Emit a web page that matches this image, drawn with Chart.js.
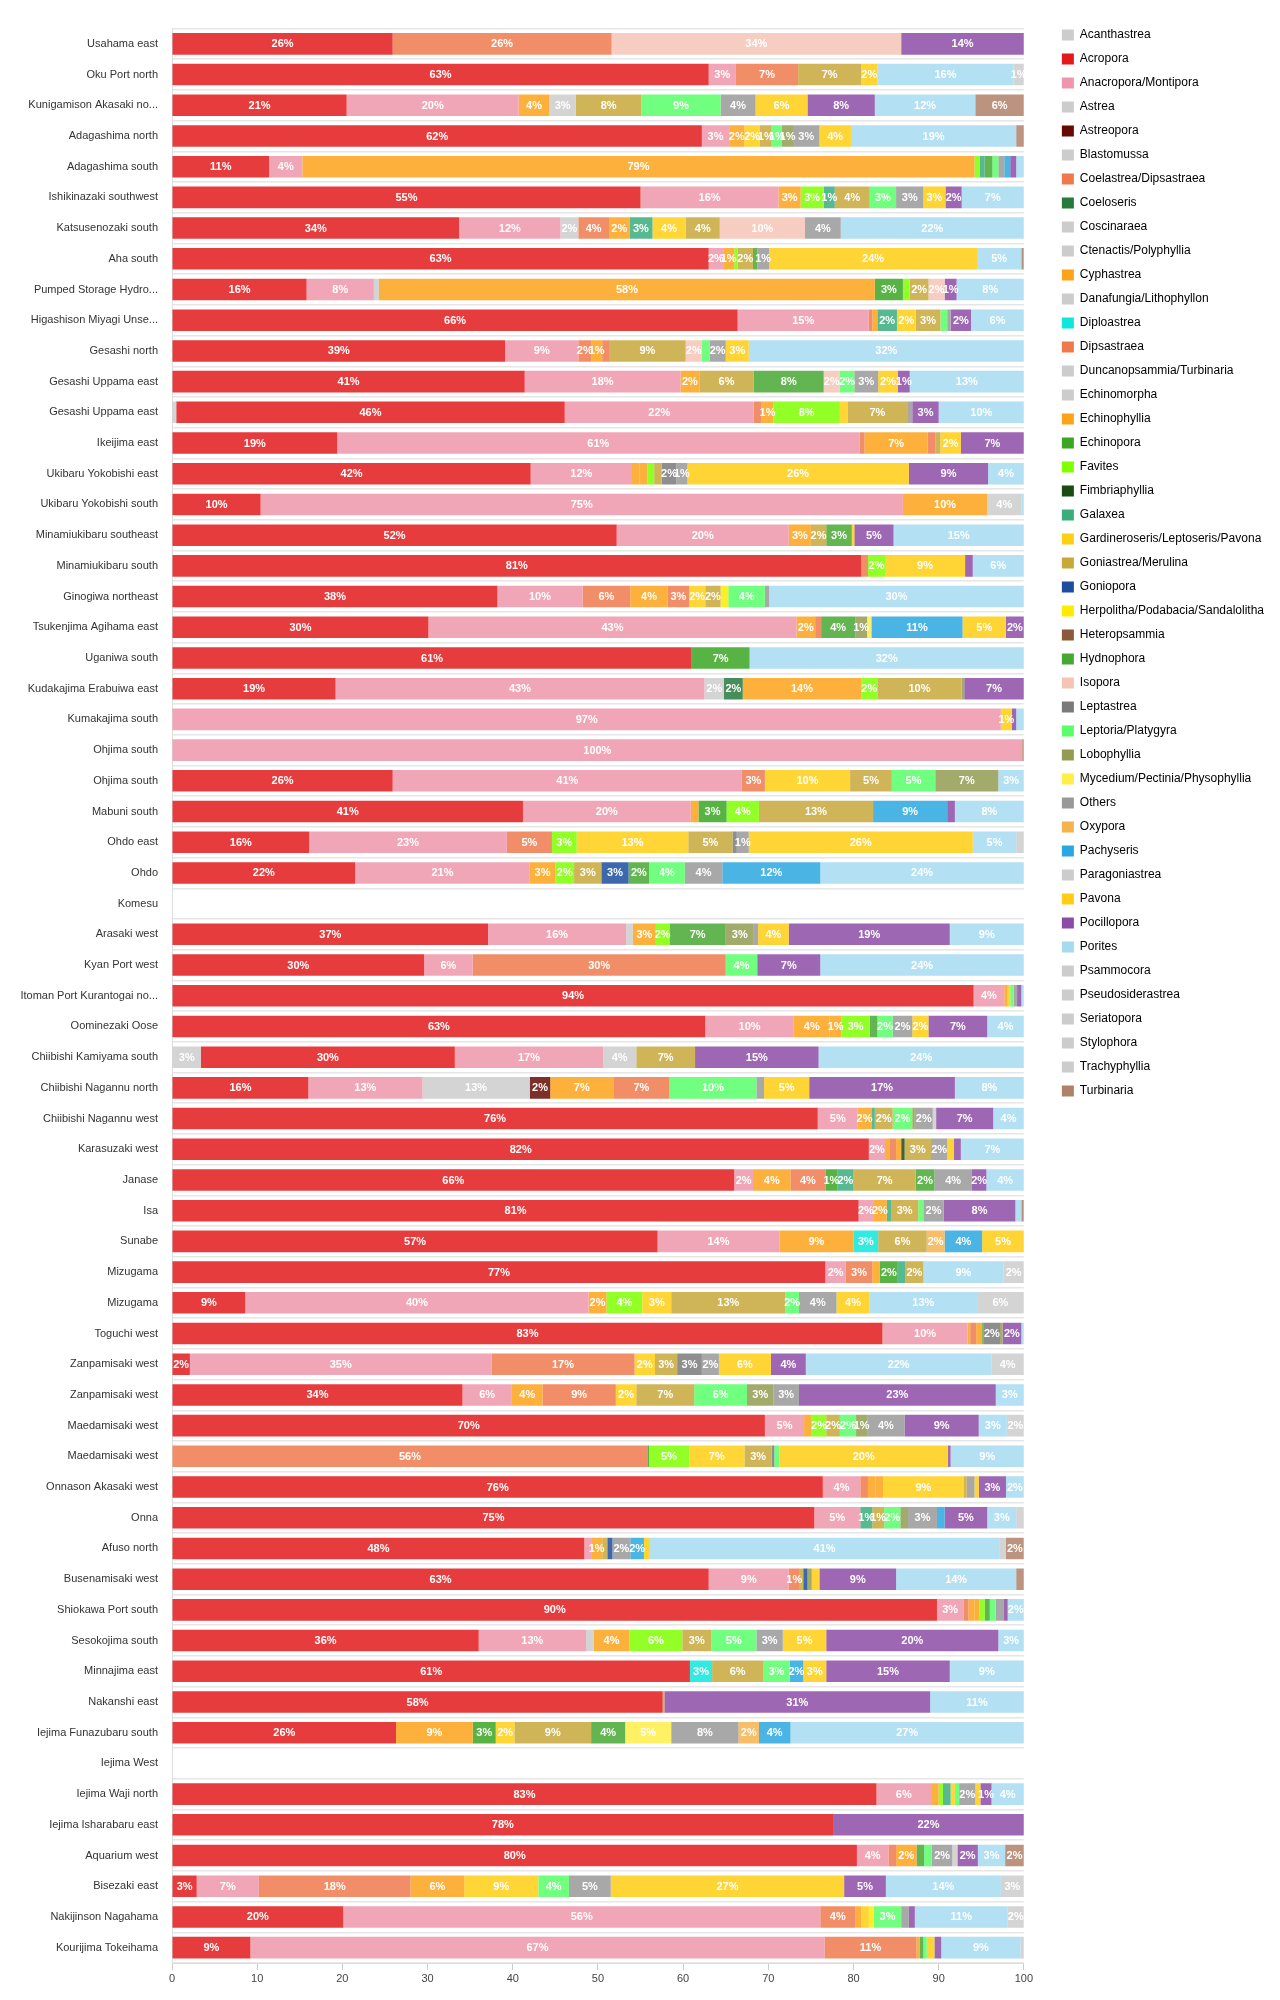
<!DOCTYPE html>
<html>
<head>
<meta charset="utf-8">
<title>Coral cover by site</title>
<script src="https://cdn.jsdelivr.net/npm/chart.js@4.4.1/dist/chart.umd.min.js"></script>
<style>
  html, body { margin: 0; padding: 0; background: #fff; }
  #wrap { width: 1280px; height: 2000px; }
</style>
</head>
<body>
<div id="wrap"><canvas id="cover-chart" width="1280" height="2000"></canvas></div>
<script>
// genus names (legend order = stacking order)
const genera = [
  'Acanthastrea', 'Acropora', 'Anacropora/Montipora', 'Astrea', 'Astreopora', 'Blastomussa',
  'Coelastrea/Dipsastraea', 'Coeloseris', 'Coscinaraea', 'Ctenactis/Polyphyllia', 'Cyphastrea',
  'Danafungia/Lithophyllon', 'Diploastrea', 'Dipsastraea', 'Duncanopsammia/Turbinaria',
  'Echinomorpha', 'Echinophyllia', 'Echinopora', 'Favites', 'Fimbriaphyllia', 'Galaxea',
  'Gardineroseris/Leptoseris/Pavona', 'Goniastrea/Merulina', 'Goniopora',
  'Herpolitha/Podabacia/Sandalolitha', 'Heteropsammia', 'Hydnophora', 'Isopora', 'Leptastrea',
  'Leptoria/Platygyra', 'Lobophyllia', 'Mycedium/Pectinia/Physophyllia', 'Others', 'Oxypora',
  'Pachyseris', 'Paragoniastrea', 'Pavona', 'Pocillopora', 'Porites', 'Psammocora',
  'Pseudosiderastrea', 'Seriatopora', 'Stylophora', 'Trachyphyllia', 'Turbinaria'
];

// short keys used in the site rows below, same order as genera
const genusKeys = [
  'acan', 'acro', 'anac', 'astr', 'astp', 'blas',
  'coel', 'cose', 'cosc', 'cten', 'cyph',
  'dana', 'dipl', 'dips', 'dunc',
  'echm', 'echp', 'echi', 'favi', 'fimb', 'gala',
  'gard', 'goni', 'gonp',
  'herp', 'hete', 'hydn', 'isop', 'lepa',
  'lept', 'lobo', 'myce', 'othe', 'oxyp',
  'pach', 'parg', 'pavo', 'poci', 'pori', 'psam',
  'pseu', 'seri', 'styl', 'trac', 'turb'
];

const genusColors = [
  '#cccccc', '#e31a1c', '#ee97ac', '#cccccc', '#660a05', '#cccccc',
  '#ee7a4c', '#267a3c', '#cccccc', '#cccccc', '#fda31a',
  '#cccccc', '#0fe6dc', '#ee7a4c', '#cccccc',
  '#cccccc', '#fda31a', '#3aa622', '#7fff00', '#1b4a12', '#3aad7c',
  '#ffcf13', '#c8a83b', '#1c4da0',
  '#ffeb00', '#8b5a3c', '#46a833', '#f5c4b5', '#7a7a7a',
  '#58ff68', '#939c52', '#ffee48', '#999999', '#f6b24c',
  '#2aa7e0', '#cccccc', '#ffcd12', '#8c4ca6', '#a6daf0', '#cccccc',
  '#cccccc', '#cccccc', '#cccccc', '#cccccc', '#b08068'
];

const sites = [
  'Usahama east', 'Oku Port north', 'Kunigamison Akasaki no...', 'Adagashima north',
  'Adagashima south', 'Ishikinazaki southwest', 'Katsusenozaki south', 'Aha south',
  'Pumped Storage Hydro...', 'Higashison Miyagi Unse...', 'Gesashi north', 'Gesashi Uppama east',
  'Gesashi Uppama east', 'Ikeijima east', 'Ukibaru Yokobishi east', 'Ukibaru Yokobishi south',
  'Minamiukibaru southeast', 'Minamiukibaru south', 'Ginogiwa northeast', 'Tsukenjima Agihama east',
  'Uganiwa south', 'Kudakajima Erabuiwa east', 'Kumakajima south', 'Ohjima south',
  'Ohjima south', 'Mabuni south', 'Ohdo east', 'Ohdo', 'Komesu', 'Arasaki west', 'Kyan Port west',
  'Itoman Port Kurantogai no...', 'Oominezaki Oose', 'Chiibishi Kamiyama south',
  'Chiibishi Nagannu north', 'Chiibishi Nagannu west', 'Karasuzaki west', 'Janase', 'Isa',
  'Sunabe', 'Mizugama', 'Mizugama', 'Toguchi west', 'Zanpamisaki west', 'Zanpamisaki west',
  'Maedamisaki west', 'Maedamisaki west', 'Onnason Akasaki west', 'Onna', 'Afuso north',
  'Busenamisaki west', 'Shiokawa Port south', 'Sesokojima south', 'Minnajima east',
  'Nakanshi east', 'Iejima Funazubaru south', 'Iejima West', 'Iejima Waji north',
  'Iejima Isharabaru east', 'Aquarium west', 'Bisezaki east', 'Nakijinson Nagahama',
  'Kourijima Tokeihama'
];

// percent cover per site, one row per site (same order as sites)
const siteCover = [
  {acro: 25.9, coel: 25.7, isop: 34.0, poci: 14.4},
  {acro: 63.0, anac: 3.2, coel: 7.3, goni: 7.4, pavo: 1.9, pori: 16.0, psam: 1.2},
  {acro: 20.5, anac: 20.2, cyph: 3.6, dunc: 3.1, goni: 7.7, lept: 9.3, othe: 4.1, pavo: 6.1, poci: 7.9, pori: 11.8, turb: 5.7},
  {acro: 62.2, anac: 3.2, cyph: 1.8, gard: 1.8, goni: 1.4, lept: 1.2, lobo: 1.3, othe: 3.1, pavo: 3.7, pori: 19.4, turb: 0.9},
  {acro: 11.4, anac: 3.9, cyph: 78.9, favi: 0.6, gala: 0.6, hydn: 0.9, lept: 0.7, othe: 0.7, pach: 0.7, poci: 0.7, pori: 0.9},
  {acro: 55.0, anac: 16.2, cyph: 2.6, favi: 2.7, gala: 1.3, goni: 4.1, lept: 3.1, othe: 3.2, pavo: 2.6, poci: 1.9, pori: 7.3},
  {acro: 33.7, anac: 11.9, astr: 2.1, coel: 3.6, cyph: 2.4, gala: 2.7, gard: 3.9, goni: 4.0, isop: 10.0, othe: 4.2, pori: 21.5},
  {acro: 63.0, anac: 1.7, cyph: 1.3, favi: 0.4, goni: 1.8, hydn: 0.5, othe: 1.4, pavo: 24.4, pori: 5.2, turb: 0.3},
  {acro: 15.8, anac: 7.9, astr: 0.6, cyph: 58.2, echi: 3.3, favi: 0.8, goni: 2.2, isop: 1.9, poci: 1.4, pori: 7.9},
  {acro: 66.4, anac: 15.4, coel: 0.4, cyph: 0.6, gala: 2.3, gard: 2.2, goni: 2.9, lept: 0.8, othe: 0.4, poci: 2.4, pori: 6.2},
  {acro: 39.1, anac: 8.6, coel: 1.5, cyph: 1.3, dips: 0.8, goni: 9.0, isop: 1.9, lept: 0.9, othe: 1.9, pavo: 2.7, pori: 32.3},
  {acro: 41.4, anac: 18.3, cyph: 2.2, goni: 6.4, hydn: 8.2, isop: 1.9, lept: 1.7, othe: 2.8, pavo: 2.3, poci: 1.4, pori: 13.4},
  {acan: 0.5, acro: 45.6, anac: 22.2, coel: 0.9, cyph: 1.4, favi: 7.8, gard: 0.9, goni: 7.0, othe: 0.6, poci: 3.1, pori: 10.0},
  {acro: 19.4, anac: 61.3, coel: 0.6, cyph: 7.4, dips: 0.9, goni: 0.6, pavo: 2.4, poci: 7.4},
  {acro: 42.1, anac: 11.9, cyph: 0.9, echp: 0.9, favi: 0.8, goni: 0.9, lepa: 1.7, othe: 1.3, pavo: 26.0, poci: 9.3, pori: 4.2},
  {acro: 10.4, anac: 75.4, cyph: 9.9, parg: 4.0, pori: 0.3},
  {acro: 52.2, anac: 20.2, cyph: 2.6, goni: 1.8, hydn: 3.0, pavo: 0.3, poci: 4.6, pori: 15.3},
  {acro: 80.9, coel: 0.8, favi: 2.0, pavo: 9.4, poci: 0.9, pori: 6.0},
  {acro: 38.2, anac: 10.0, coel: 5.6, cyph: 4.4, dips: 2.5, gard: 1.9, goni: 1.8, herp: 0.9, lept: 4.3, othe: 0.5, pori: 29.9},
  {acro: 30.1, anac: 43.2, cyph: 2.2, dips: 0.7, hydn: 4.0, lobo: 1.4, myce: 0.5, pach: 10.7, pavo: 5.1, poci: 2.1},
  {acro: 61.0, echi: 6.8, pori: 32.2},
  {acro: 19.2, anac: 43.3, blas: 2.3, cose: 2.2, cyph: 13.9, favi: 1.9, goni: 9.9, lobo: 0.3, poci: 7.0},
  {anac: 97.3, pavo: 1.3, poci: 0.5, pori: 0.9},
  {anac: 99.8, turb: 0.2},
  {acro: 25.9, anac: 41.0, dips: 2.7, gard: 10.0, goni: 4.9, lept: 5.1, lobo: 7.4, pori: 3.0},
  {acro: 41.2, anac: 19.7, cyph: 0.9, echi: 3.3, favi: 3.8, goni: 13.4, pach: 8.7, poci: 0.9, pori: 8.1},
  {acro: 16.1, anac: 23.2, dips: 5.3, favi: 2.9, gard: 13.1, goni: 5.2, lepa: 0.5, othe: 1.4, pavo: 26.3, pori: 5.1, psam: 0.9},
  {acro: 21.5, anac: 20.5, cyph: 3.0, favi: 2.2, goni: 3.2, gonp: 3.2, hydn: 2.4, lept: 4.2, othe: 4.4, pach: 11.5, pori: 23.9},
  {},
  {acro: 37.1, anac: 16.2, astr: 0.8, cyph: 2.7, favi: 1.6, hydn: 6.6, lobo: 3.3, othe: 0.5, pavo: 3.6, poci: 18.9, pori: 8.7},
  {acro: 29.6, anac: 5.7, coel: 29.7, lept: 3.7, poci: 7.4, pori: 23.9},
  {acro: 94.1, anac: 3.6, cyph: 0.4, gard: 0.3, lept: 0.4, othe: 0.4, poci: 0.5, pori: 0.3},
  {acro: 62.6, anac: 10.4, cyph: 4.2, echp: 1.4, favi: 3.3, hydn: 0.9, lept: 1.8, othe: 2.3, pavo: 1.9, poci: 6.9, pori: 4.3},
  {acan: 3.4, acro: 29.8, anac: 17.4, astr: 3.9, goni: 6.9, poci: 14.5, pori: 24.1},
  {acro: 16.0, anac: 13.4, astr: 12.6, astp: 2.4, cyph: 7.4, dips: 6.6, lept: 10.2, othe: 0.9, pavo: 5.3, poci: 17.1, pori: 8.1},
  {acro: 75.8, anac: 4.7, cyph: 1.6, gala: 0.4, goni: 2.1, lept: 2.3, lobo: 0.3, othe: 2.1, parg: 0.4, poci: 6.7, pori: 3.6},
  {acro: 81.8, anac: 1.9, cyph: 0.5, dips: 0.8, echp: 0.6, fimb: 0.4, goni: 3.1, othe: 1.9, pavo: 0.8, poci: 0.8, pori: 7.4},
  {acro: 66.0, anac: 2.2, cyph: 4.4, dips: 4.1, echi: 1.4, gala: 1.9, goni: 7.3, hydn: 2.2, othe: 4.4, poci: 1.7, pori: 4.4},
  {acro: 80.6, anac: 1.7, cyph: 1.6, gala: 0.5, goni: 3.2, lept: 0.6, othe: 2.4, poci: 8.4, pori: 0.7, turb: 0.3},
  {acro: 57.0, anac: 14.3, cyph: 8.7, dipl: 2.9, goni: 5.7, oxyp: 2.1, pach: 4.4, pavo: 4.9},
  {acro: 76.7, anac: 2.4, coel: 3.1, cyph: 0.9, echi: 2.1, gala: 0.9, goni: 2.1, pori: 9.4, psam: 2.4},
  {acro: 8.6, anac: 40.3, cyph: 2.1, favi: 4.2, gard: 3.4, goni: 13.4, lept: 1.6, othe: 4.4, pavo: 3.9, pori: 12.6, psam: 5.5},
  {acro: 83.4, anac: 10.0, cyph: 0.3, dips: 0.7, echp: 0.7, hydn: 0.2, lepa: 1.9, lobo: 0.3, poci: 2.2, pori: 0.3},
  {acro: 2.1, anac: 35.4, dips: 16.8, gard: 2.4, goni: 2.6, lepa: 2.9, othe: 2.0, pavo: 6.1, poci: 4.1, pori: 21.8, psam: 3.8},
  {acro: 34.1, anac: 5.8, cyph: 3.6, dips: 8.6, gard: 2.4, goni: 6.8, lept: 6.2, lobo: 3.1, othe: 3.0, poci: 23.1, pori: 3.3},
  {acro: 69.6, anac: 4.6, cyph: 0.9, favi: 1.7, goni: 1.6, lept: 1.9, lobo: 1.3, othe: 4.4, poci: 8.7, pori: 3.3, psam: 2.0},
  {coel: 55.8, echi: 0.2, favi: 4.7, gard: 6.5, goni: 3.2, lepa: 0.3, lept: 0.6, pavo: 19.8, poci: 0.3, pori: 8.6},
  {acro: 76.4, anac: 4.4, coel: 0.9, cyph: 0.9, echp: 0.9, gard: 9.4, goni: 0.4, othe: 0.9, pavo: 0.5, poci: 3.2, pori: 2.1},
  {acro: 75.4, anac: 5.4, gala: 1.4, goni: 1.4, lept: 1.9, lobo: 0.9, othe: 3.4, pach: 0.9, poci: 5.0, pori: 3.4, psam: 0.9},
  {acro: 48.4, anac: 0.8, cyph: 1.3, goni: 0.6, gonp: 0.6, othe: 2.1, pach: 1.6, pavo: 0.7, pori: 41.0, psam: 0.8, turb: 2.1},
  {acro: 63.0, anac: 9.4, coel: 1.3, goni: 0.4, gonp: 0.5, lobo: 0.5, pavo: 0.9, poci: 9.0, pori: 14.1, turb: 0.9},
  {acro: 89.8, anac: 3.1, coel: 0.6, cyph: 0.7, echp: 0.6, favi: 0.6, hydn: 0.6, lept: 0.7, othe: 0.9, poci: 0.5, pori: 1.9},
  {acro: 36.0, anac: 12.6, cten: 0.9, cyph: 4.2, favi: 6.2, goni: 3.4, lept: 5.3, othe: 3.1, pavo: 5.1, poci: 20.2, pori: 3.0},
  {acro: 60.8, dipl: 2.6, goni: 6.0, lept: 3.1, pach: 1.6, pavo: 2.7, poci: 14.5, pori: 8.7},
  {acro: 57.6, goni: 0.2, poci: 31.2, pori: 11.0},
  {acro: 26.3, cyph: 9.0, echi: 2.7, gard: 2.2, goni: 9.0, hydn: 4.0, myce: 5.4, othe: 7.9, oxyp: 2.4, pach: 3.7, pori: 27.4},
  {},
  {acro: 82.7, anac: 6.4, cyph: 0.9, favi: 0.5, gala: 0.9, gard: 0.5, lept: 0.5, othe: 1.9, pavo: 0.6, poci: 1.3, pori: 3.8},
  {acro: 77.6, poci: 22.4},
  {acro: 80.4, anac: 3.7, coel: 0.9, cyph: 2.4, hydn: 0.9, lept: 0.9, othe: 2.4, parg: 0.6, poci: 2.4, pori: 3.2, turb: 2.2},
  {acro: 2.9, anac: 7.3, coel: 17.8, cyph: 6.3, gard: 8.7, lept: 3.6, othe: 4.9, pavo: 27.4, poci: 4.9, pori: 13.5, psam: 2.7},
  {acro: 20.1, anac: 56.0, coel: 4.1, cyph: 0.7, gard: 0.9, herp: 0.6, lept: 3.2, othe: 0.9, poci: 0.7, pori: 10.9, psam: 1.9},
  {acro: 9.2, anac: 67.4, coel: 10.8, cyph: 0.4, hydn: 0.4, lept: 0.4, pavo: 0.9, poci: 0.8, pori: 9.3, psam: 0.4}
];

const xTicks = [0, 10, 20, 30, 40, 50, 60, 70, 80, 90, 100];

function withAlpha(hex, a) {
    const n = parseInt(hex.slice(1), 16);
    return 'rgba(' + (n >> 16) + ',' + ((n >> 8) & 255) + ',' + (n & 255) + ',' + a + ')';
}

// white percentage labels inside each segment
const segmentLabels = {
    id: 'segmentLabels',
    afterDatasetsDraw(chart) {
        const ctx = chart.ctx;
        ctx.save();
        ctx.font = 'bold 11px "Liberation Sans", Arial, sans-serif';
        ctx.fillStyle = '#ffffff';
        ctx.textAlign = 'center';
        ctx.textBaseline = 'middle';
        chart.data.datasets.forEach(function(ds, i) {
            const meta = chart.getDatasetMeta(i);
            meta.data.forEach(function(bar, j) {
                const v = ds.data[j];
                if (!v || v < 1) return;
                ctx.fillText(Math.round(v) + '%', (bar.x + bar.base) / 2, bar.y + 0.5);
            });
        });
        ctx.restore();
    }
};

// push the legend a bit to the right of the plot
const legendGap = {
    id: 'legendGap',
    afterLayout(chart) {
        chart.legend.left += 26;
        chart.legend.right += 26;
    }
};

Chart.defaults.font.family = '"Liberation Sans", Arial, Helvetica, sans-serif';

var drawChart = function() {
    var ctx = document.getElementById('cover-chart').getContext('2d');

    var datasets = genera.map(function(name, i) {
        return {
            label: name,
            data: siteCover.map(function(row) { return row[genusKeys[i]] || 0; }),
            backgroundColor: withAlpha(genusColors[i], 0.85),
            borderWidth: 0,
            barPercentage: 0.9,
            categoryPercentage: 0.78
        };
    });

    new Chart(ctx, {
        type: 'bar',
        data: {
            labels: sites,
            datasets: datasets
        },
        options: {
            indexAxis: 'y',
            responsive: false,
            animation: false,
            layout: {
                padding: { top: 17, left: 0, right: 32, bottom: 0 }
            },
            plugins: {
                title: {
                    display: true,
                    text: '',
                    fullSize: false,
                    padding: 0,
                    font: { size: 11.5, lineHeight: 1 }
                },
                tooltip: { enabled: false },
                legend: {
                    display: true,
                    position: 'right',
                    align: 'start',
                    labels: {
                        boxWidth: 12,
                        boxHeight: 11,
                        padding: 12,
                        color: '#333',
                        font: { size: 12 },
                        generateLabels: function(chart) {
                            return chart.data.datasets.map(function(ds, i) {
                                return {
                                    text: ds.label,
                                    fillStyle: genusColors[i],
                                    strokeStyle: genusColors[i],
                                    lineWidth: 0,
                                    hidden: false,
                                    datasetIndex: i
                                };
                            });
                        }
                    }
                }
            },
            scales: {
                x: {
                    stacked: true,
                    min: 0,
                    max: 100,
                    afterBuildTicks: function(scale) {
                        scale.ticks = xTicks.map(function(v) { return { value: v }; });
                    },
                    afterFit: function(scale) {
                        scale.height = 37;
                    },
                    grid: {
                        drawOnChartArea: false,
                        drawTicks: true,
                        tickLength: 7,
                        color: '#cccccc'
                    },
                    border: { display: true, color: '#dddddd' },
                    ticks: {
                        padding: 2,
                        color: '#444',
                        font: { size: 11 }
                    }
                },
                y: {
                    stacked: true,
                    afterFit: function(scale) {
                        scale.width = 172;
                    },
                    grid: {
                        drawTicks: false,
                        color: '#e6e6e6',
                        lineWidth: 1.5
                    },
                    border: { display: true, color: '#dddddd' },
                    ticks: {
                        padding: 14,
                        color: '#333',
                        autoSkip: false,
                        font: { size: 11 }
                    }
                }
            }
        },
        plugins: [segmentLabels, legendGap]
    });
};

window.onload = drawChart;
</script>
</body>
</html>
